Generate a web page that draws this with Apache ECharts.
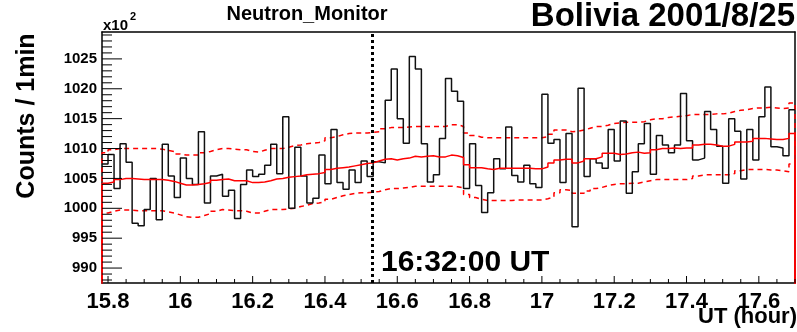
<!DOCTYPE html>
<html>
<head>
<meta charset="utf-8">
<script src="https://cdn.jsdelivr.net/npm/echarts@6/dist/echarts.min.js"></script>
<style>
  html, body { margin: 0; padding: 0; background: #fff; }
  #chart { width: 797px; height: 332px; }
</style>
</head>
<body>
<div id="chart"></div>
<script>
// one-minute bins starting at 15:47 UT
const firstBinHour = 15 + 47 / 60;
const binHours = 1 / 60;
const eventHour = 16 + 32 / 60; // 16:32:00 UT

// counts per minute (x10^2)
const counts = [
  1007.4, 1009.0, 1003.3, 1010.8, 1007.7, 997.5, 997.1, 999.8, 1005.0, 998.1,
  1010.7, 1005.4, 1001.8, 1008.4, 1005.0, 1004.0, 1012.8, 1000.9, 1005.4, 1005.7,
  1002.0, 1003.0, 998.3, 1004.0, 1006.4, 1005.3, 1005.7, 1007.2, 1010.7, 1005.8,
  1015.3, 1000.0, 1010.2, 1005.4, 1000.9, 1001.7, 1008.9, 1004.1, 1013.2, 1004.3,
  1003.2, 1006.4, 1004.3, 1007.9, 1005.3, 1007.8, 1007.6, 1018.1, 1023.3, 1015.0,
  1010.9, 1025.4, 1023.3, 1010.8, 1004.4, 1005.6, 1011.7, 1021.7, 1019.6, 1017.9,
  1003.3, 1010.8, 1003.8, 999.3, 1002.6, 1008.3, 1006.6, 1013.6, 1005.5, 1004.4,
  1007.2, 1004.1, 1003.5, 1019.1, 1010.9, 1011.5, 1004.3, 1012.5, 996.9, 1020.1,
  1005.3, 1008.3, 1007.6, 1006.7, 1013.2, 1007.9, 1014.6, 1002.5, 1006.1, 1010.8,
  1014.2, 1005.7, 1012.2, 1010.6, 1009.3, 1010.6, 1019.2, 1011.3, 1008.1, 1008.4,
  1016.2, 1013.2, 1010.4, 1004.2, 1015.0, 1012.9, 1004.9, 1013.2, 1008.1, 1015.3,
  1020.3, 1010.3, 1010.1, 1008.8, 1016.5
];

// running mean
const mean = [
  1004.2, 1004.4, 1004.8, 1005.0, 1005.0, 1004.9, 1004.8, 1004.8, 1004.8, 1004.8,
  1004.7, 1004.5, 1004.2, 1003.9, 1003.9, 1004.0, 1004.1, 1004.3, 1004.7, 1004.8,
  1004.9, 1004.6, 1004.6, 1004.6, 1004.3, 1004.3, 1004.4, 1004.6, 1004.9, 1005.0,
  1005.2, 1005.3, 1005.4, 1005.6, 1005.7, 1005.8, 1006.0, 1006.5, 1006.7, 1006.8,
  1006.9, 1007.1, 1007.3, 1007.5, 1007.6, 1007.9, 1008.2, 1008.3, 1008.1, 1008.3,
  1008.4, 1008.7, 1008.6, 1008.7, 1008.8, 1008.6, 1008.6, 1008.9, 1008.8, 1008.5,
  1007.3, 1006.8, 1006.8, 1006.6, 1006.5, 1006.7, 1006.7, 1006.7, 1006.7, 1006.7,
  1006.7, 1006.6, 1006.6, 1006.9, 1007.6, 1008.1, 1008.2, 1008.2, 1007.6, 1007.9,
  1008.3, 1008.3, 1008.6, 1009.2, 1009.2, 1009.0, 1009.1, 1009.3, 1009.4, 1009.2,
  1009.3, 1009.8, 1010.0, 1010.0, 1010.1, 1010.0, 1010.1, 1010.1, 1010.6, 1010.7,
  1010.7, 1010.6, 1010.4, 1010.4, 1010.7, 1011.1, 1011.1, 1011.2, 1011.7, 1011.7,
  1011.6, 1011.5, 1011.5, 1011.7, 1012.5
];

// upper band
const upper = [
  1009.3, 1009.8, 1010.0, 1010.0, 1010.0, 1010.0, 1010.0, 1010.0, 1010.0, 1009.9,
  1009.7, 1009.5, 1009.1, 1008.9, 1008.9, 1008.9, 1009.3, 1009.5, 1009.8, 1010.0,
  1010.0, 1009.9, 1009.8, 1009.8, 1009.5, 1009.4, 1009.7, 1010.0, 1010.0, 1010.0,
  1010.2, 1010.5, 1010.6, 1010.8, 1010.9, 1011.0, 1011.3, 1011.8, 1012.0, 1012.3,
  1012.5, 1012.6, 1012.6, 1012.6, 1012.7, 1012.8, 1013.3, 1013.5, 1013.5, 1013.5,
  1013.6, 1013.7, 1013.7, 1013.7, 1013.7, 1013.7, 1013.7, 1014.0, 1014.0, 1013.7,
  1012.6, 1012.2, 1011.9, 1011.8, 1011.8, 1011.8, 1011.8, 1011.8, 1011.8, 1011.8,
  1011.8, 1011.8, 1011.8, 1012.0, 1012.4, 1013.1, 1013.1, 1012.8, 1012.9, 1013.1,
  1013.4, 1013.7, 1013.7, 1013.9, 1014.2, 1014.3, 1014.4, 1014.4, 1014.4, 1014.5,
  1014.8, 1015.0, 1015.0, 1015.2, 1015.3, 1015.4, 1015.5, 1015.7, 1015.7, 1015.7,
  1015.7, 1015.8, 1015.8, 1015.9, 1016.2, 1016.4, 1016.5, 1016.7, 1016.8, 1016.8,
  1016.9, 1016.8, 1016.7, 1016.8, 1017.6
];

// lower band
const lower = [
  999.2, 999.5, 999.7, 999.7, 999.7, 999.6, 999.6, 999.6, 999.6, 999.6,
  999.4, 999.2, 998.9, 998.6, 998.5, 998.5, 998.8, 999.1, 999.5, 999.8,
  999.7, 999.6, 999.6, 999.5, 999.2, 999.2, 999.5, 999.8, 999.8, 999.8,
  999.9, 1000.0, 1000.3, 1000.5, 1000.8, 1000.9, 1001.1, 1001.5, 1001.8, 1002.1,
  1002.3, 1002.5, 1002.6, 1002.6, 1002.7, 1002.8, 1003.1, 1003.3, 1003.3, 1003.4,
  1003.5, 1003.7, 1003.7, 1003.7, 1003.7, 1003.7, 1003.7, 1003.7, 1003.6, 1003.4,
  1002.3, 1001.8, 1001.5, 1001.3, 1001.3, 1001.3, 1001.3, 1001.3, 1001.4, 1001.4,
  1001.4, 1001.4, 1001.4, 1001.6, 1001.9, 1002.6, 1003.1, 1003.0, 1002.5, 1002.5,
  1002.9, 1003.3, 1003.5, 1003.8, 1004.0, 1004.1, 1004.1, 1004.2, 1004.2, 1004.4,
  1004.6, 1004.8, 1004.8, 1004.8, 1004.8, 1004.8, 1004.8, 1005.0, 1005.4, 1005.6,
  1005.6, 1005.6, 1005.6, 1005.6, 1005.8, 1006.3, 1006.5, 1006.5, 1006.5, 1006.5,
  1006.4, 1006.4, 1006.3, 1006.1, 1007.4
];

const xTickLabels = ['15.8', '16', '16.2', '16.4', '16.6', '16.8', '17', '17.2', '17.4', '17.6'];
const yTickLabels = ['990', '995', '1000', '1005', '1010', '1015', '1020', '1025'];

const xMin = firstBinHour;
const xMax = firstBinHour + counts.length * binHours;
const yMin = 987.5, yMax = 1029.5;

const xMajor = xTickLabels.map(Number);
const yMajor = yTickLabels.map(Number);
const xMinor = [];
for (let i = 0; 15.8 + i * 0.05 <= xMax + 1e-6; i++) if (i % 4) xMinor.push(15.8 + i * 0.05);
const yMinor = [];
for (let v = 988; v <= 1029; v++) if (v % 5) yMinor.push(v);

// histogram outline: flat top per bin, optional drop to zero at both ends
function histo(vals, drop) {
  const pts = [];
  if (drop) pts.push([xMin, 0]);
  vals.forEach((v, k) => {
    pts.push([xMin + k * binHours, v]);
    pts.push([xMin + (k + 1) * binHours, v]);
  });
  if (drop) pts.push([xMax, 0]);
  return pts;
}

const font = 'Liberation Sans, Arial, sans-serif';

function frameAxis(min, max, position, label) {
  return {
    type: 'value', min, max, position,
    axisLine: { show: true, lineStyle: { color: '#000', width: 1.5 } },
    axisTick: { show: false }, splitLine: { show: false },
    axisLabel: label || { show: false }
  };
}

const texts = [
  { type: 'text', x: 307, y: 14, style: { text: 'Neutron_Monitor', font: 'bold 20px ' + font, fill: '#000', align: 'center', verticalAlign: 'middle' } },
  { type: 'text', x: 795, y: 17, style: { text: 'Bolivia 2001/8/25', font: 'bold 33px ' + font, fill: '#000', align: 'right', verticalAlign: 'middle' } },
  { type: 'text', x: 103, y: 26, style: { text: 'x10', font: 'bold 15px ' + font, fill: '#000', align: 'left', verticalAlign: 'middle' } },
  { type: 'text', x: 130, y: 17, style: { text: '2', font: 'bold 11px ' + font, fill: '#000', align: 'left', verticalAlign: 'middle' } },
  { type: 'text', x: 381, y: 263, style: { text: '16:32:00 UT', font: 'bold 30px ' + font, fill: '#000', align: 'left', verticalAlign: 'middle' } },
  { type: 'text', x: 797, y: 317, style: { text: 'UT (hour)', font: 'bold 22px ' + font, fill: '#000', align: 'right', verticalAlign: 'middle' } },
  { type: 'text', x: 27, y: 116, rotation: Math.PI / 2, style: { text: 'Counts / 1min', font: 'bold 25px ' + font, fill: '#000', align: 'center', verticalAlign: 'middle' } }
];

const chart = echarts.init(document.getElementById('chart'));

chart.setOption({
  animation: false,
  grid: { left: 102, right: 2, top: 32, bottom: 49 },
  xAxis: [
    frameAxis(xMin, xMax, 'bottom', {
      show: true, customValues: xMajor, margin: 8, color: '#000',
      fontFamily: font, fontWeight: 'bold', fontSize: 22,
      formatter: v => xTickLabels[xMajor.findIndex(m => Math.abs(m - v) < 1e-6)]
    }),
    frameAxis(xMin, xMax, 'top')
  ],
  yAxis: [
    frameAxis(yMin, yMax, 'left', {
      show: true, customValues: yMajor, margin: 5, color: '#000',
      fontFamily: font, fontWeight: 'bold', fontSize: 15,
      formatter: v => yTickLabels[yMajor.indexOf(v)]
    }),
    frameAxis(yMin, yMax, 'right')
  ],
  series: [
    {
      type: 'line', data: histo(upper, true), symbol: 'none',
      lineStyle: { color: '#ff0000', width: 1.5, type: [5, 4] }
    },
    {
      type: 'line', data: histo(lower, true), symbol: 'none',
      lineStyle: { color: '#ff0000', width: 1.5, type: [5, 4] }
    },
    {
      type: 'line', data: histo(counts, false), symbol: 'none',
      lineStyle: { color: '#111', width: 1.5 },
      markLine: {
        silent: true, symbol: ['none', 'none'], label: { show: false },
        lineStyle: { color: '#000', width: 3, type: [3, 3] },
        data: [{ xAxis: eventHour }]
      }
    },
    {
      type: 'line', data: histo(mean, true), symbol: 'none',
      lineStyle: { color: '#ff0000', width: 1.5 }
    }
  ],
  graphic: texts
});

// inward tick marks (ROOT style), positioned through the axis scales
const toPx = (x, y) => chart.convertToPixel({ xAxisIndex: 0, yAxisIndex: 0 }, [x, y]);
const ticks = [];
function tick(p, dx, dy) {
  ticks.push({
    type: 'line', silent: true, z: 10,
    shape: { x1: p[0], y1: p[1], x2: p[0] + dx, y2: p[1] + dy },
    style: { stroke: '#000', lineWidth: 1 }
  });
}
xMajor.forEach(t => tick(toPx(t, yMin), 0, -7));
xMinor.forEach(t => tick(toPx(t, yMin), 0, -4));
yMajor.forEach(v => tick(toPx(xMin, v), 20, 0));
yMinor.forEach(v => tick(toPx(xMin, v), 10, 0));

chart.setOption({ graphic: texts.concat(ticks) });
</script>
</body>
</html>
